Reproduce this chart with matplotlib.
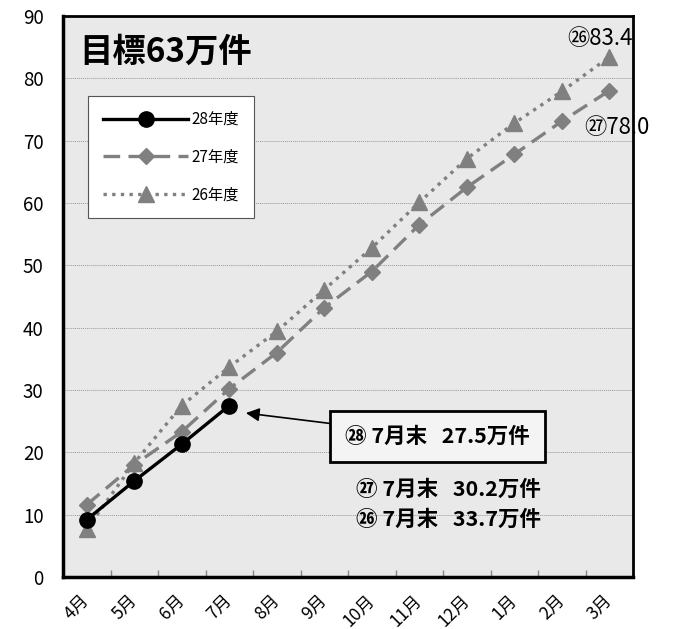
import matplotlib
matplotlib.use('Agg')
import matplotlib.pyplot as plt
import numpy as np

plt.rcParams['font.family'] = ['Noto Sans CJK JP', 'DejaVu Sans']

months = ['4月', '5月', '6月', '7月', '8月', '9月', '10月', '11月', '12月', '1月', '2月', '3月']
h28 = [9.2, 15.4, 21.3, 27.5]
h27 = [11.6, 18.0, 23.3, 30.2, 36.0, 43.2, 49.0, 56.5, 62.5, 67.8, 73.1, 78.0]
h26 = [7.7, 18.3, 27.5, 33.7, 39.4, 46.1, 52.8, 60.1, 67.1, 72.8, 77.9, 83.4]
yticks = [0, 10, 20, 30, 40, 50, 60, 70, 80, 90]

gray = '#808080'

fig = plt.figure(figsize=(6.76, 6.29), dpi=100)
ax = fig.add_axes([0.0932, 0.0827, 0.8432, 0.8919])
ax.set_facecolor('#e9e9e9')

x = np.arange(len(months))
l26, = ax.plot(x, h26, linestyle=(0, (1, 1.6)), color=gray, lw=2.4,
               marker='^', markersize=11, label='26年度')
l27, = ax.plot(x, h27, linestyle=(0, (5, 2.5)), color=gray, lw=2.4,
               marker='D', markersize=8.5, label='27年度')
l28, = ax.plot(x[:len(h28)], h28, linestyle='-', color='black', lw=2.4,
               marker='o', markersize=11, label='28年度', zorder=5)

ax.set_xlim(-0.5, len(months) - 0.5)
ax.set_ylim(0, 90)
ax.set_yticks(yticks)
ax.tick_params(axis='y', length=0, labelsize=13.5, pad=14)
ax.set_xticks(x)
ax.set_xticklabels(months, rotation=45, ha='right', va='center',
                   rotation_mode='anchor', fontsize=12.5)
ax.tick_params(axis='x', length=0, pad=15)
ax.set_xticks(np.arange(0.5, len(months) - 1, 1), minor=True)
ax.tick_params(axis='x', which='minor', direction='in', length=5, width=1, color='#888888')
ax.grid(axis='y', linestyle=(0, (1, 1)), color='#999999', lw=0.7)
ax.set_axisbelow(True)

for side in ['left', 'bottom']:
    ax.spines[side].set_linewidth(2.5)
for side in ['top', 'right']:
    ax.spines[side].set_linewidth(2)

ax.text(0.028, 0.935, '目標63万件', transform=ax.transAxes, fontsize=24,
        fontweight='bold', va='center', ha='left')

leg = ax.legend(handles=[l28, l27, l26], loc='upper left', bbox_to_anchor=(0.043, 0.858),
                fontsize=11, frameon=True, fancybox=False, edgecolor='#555555',
                framealpha=1, handlelength=5.6, labelspacing=1.35, borderpad=1.0,
                handletextpad=0.2, borderaxespad=0)
leg.get_frame().set_linewidth(0.8)

ax.text(x[-1] + 0.5, h26[-1] + 3.0, f'㉖{h26[-1]:.1f}', fontsize=16, ha='right', va='center')
ax.text(x[-1] - 0.52, h27[-1] - 5.9, f'㉗{h27[-1]:.1f}', fontsize=16, ha='left', va='center',
        clip_on=False)

ax.annotate(f'㉘ 7月末   {h28[3]}万件', xy=(3.35, 26.3), xytext=(7.39, 22.5),
            fontsize=15.5, fontweight='bold', ha='center', va='center',
            bbox=dict(boxstyle='square,pad=0.7', fc='#f4f4f4', ec='black', lw=2),
            arrowprops=dict(arrowstyle='-|>', color='black', lw=1.2, mutation_scale=20,
                            shrinkA=0, shrinkB=0))
ax.text(7.62, 14.1, f'㉗ 7月末   {h27[3]}万件', fontsize=15.5, fontweight='bold',
        ha='center', va='center')
ax.text(7.62, 9.2, f'㉖ 7月末   {h26[3]}万件', fontsize=15.5, fontweight='bold',
        ha='center', va='center')

fig.savefig('out.png', dpi=100)
